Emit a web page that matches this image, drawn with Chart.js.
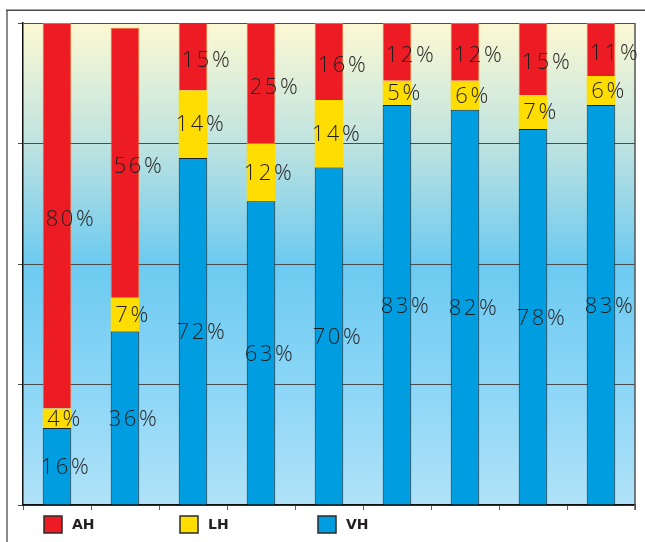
<!DOCTYPE html>
<html>
<head>
<meta charset="utf-8">
<script src="https://cdn.jsdelivr.net/npm/chart.js@4.4.1/dist/chart.umd.min.js"></script>
<style>
  html, body { margin: 0; padding: 0; background: #ffffff; }
  #wrap { position: relative; width: 645px; height: 542px; }
</style>
</head>
<body>
<div id="wrap"><canvas id="chart" width="645" height="542"></canvas></div>
<script>
// --- data ---
const categories = ['1', '2', '3', '4', '5', '6', '7', '8', '9'];
const vhValues = [16, 36, 72, 63, 70, 83, 82, 78, 83];
const lhValues = [4, 7, 14, 12, 14, 5, 6, 7, 6];
const ahValues = [80, 56, 15, 25, 16, 12, 12, 15, 11];
const yTicks = [0, 25, 50, 75, 100];
const legendOrder = ['AH', 'LH', 'VH'];

const TEXT = '#231f20';

// gradient behind the bars + outer frame lines
const backdrop = {
  id: 'backdrop',
  beforeDraw(chart) {
    const { ctx, chartArea: a } = chart;
    const g = ctx.createLinearGradient(0, a.top, 0, a.bottom);
    g.addColorStop(0, '#fcf9d3');
    g.addColorStop(0.25, '#bfe3e0');
    g.addColorStop(0.5, '#6ccaf0');
    g.addColorStop(0.75, '#8bd6f7');
    g.addColorStop(1, '#b0e2f8');
    ctx.save();
    ctx.fillStyle = g;
    ctx.fillRect(a.left, a.top, a.right - a.left, a.bottom - a.top);
    // frame
    ctx.fillStyle = '#8a8a8a';
    ctx.fillRect(6, 10, 2, chart.height - 10);
    ctx.fillStyle = '#4a4a4a';
    ctx.fillRect(6, 9.5, chart.width - 6, 1.5);
    ctx.restore();
  },
  afterDatasetsDraw(chart) {
    const { ctx, chartArea: a } = chart;
    ctx.save();
    ctx.strokeStyle = '#555555';
    ctx.lineWidth = 1.5;
    ctx.beginPath();
    ctx.moveTo(a.right, a.top);
    ctx.lineTo(a.right, a.bottom + 5);
    ctx.stroke();
    ctx.restore();
  }
};

// percentage text on each segment
const segmentLabels = {
  id: 'segmentLabels',
  afterDatasetsDraw(chart) {
    const { ctx } = chart;
    ctx.save();
    ctx.font = '300 22px "Open Sans"';
    ctx.letterSpacing = '2.5px';
    ctx.fillStyle = TEXT;
    ctx.textAlign = 'center';
    ctx.textBaseline = 'middle';
    chart.data.datasets.forEach((ds, i) => {
      const meta = chart.getDatasetMeta(i);
      meta.data.forEach((bar, j) => {
        const top = Math.max(bar.y, chart.chartArea.top);
        const cy = (top + bar.base) / 2 + (ds.labelDrop || 0);
        ctx.fillText(ds.data[j] + '%', bar.x + ds.labelShift, cy);
      });
    });
    ctx.restore();
  }
};

// legend row under the plot
const legendRow = {
  id: 'legendRow',
  afterDraw(chart) {
    const { ctx } = chart;
    const xs = [44, 180, 318];
    ctx.save();
    ctx.font = 'bold 14px "DejaVu Sans"';
    ctx.textBaseline = 'middle';
    legendOrder.forEach((name, k) => {
      const ds = chart.data.datasets.find(d => d.label === name);
      ctx.fillStyle = ds.backgroundColor;
      ctx.fillRect(xs[k], 516, 18, 17);
      ctx.strokeStyle = '#2b2b2b';
      ctx.lineWidth = 1.5;
      ctx.strokeRect(xs[k], 516, 18, 17);
      ctx.fillStyle = TEXT;
      ctx.fillText(name, xs[k] + 28, 525.5);
    });
    ctx.restore();
  }
};

new Chart(document.getElementById('chart'), {
  type: 'bar',
  data: {
    labels: categories,
    datasets: [
      { label: 'VH', data: vhValues, backgroundColor: '#009ee0', borderColor: '#1c2328', borderWidth: 1, labelShift: 9, labelDrop: 2 },
      { label: 'LH', data: lhValues, backgroundColor: '#ffdd00', borderColor: '#f5c800', borderWidth: 0, labelShift: 8, labelDrop: 1 },
      { label: 'AH', data: ahValues, backgroundColor: '#ed1c24', borderColor: '#f26a2a', borderWidth: 1, labelShift: 14, labelDrop: 4 }
    ]
  },
  options: {
    responsive: false,
    animation: false,
    datasets: { bar: { categoryPercentage: 1, barPercentage: 0.42 } },
    layout: { padding: { left: 18, top: 23, right: 10, bottom: 32 } },
    plugins: { legend: { display: false }, tooltip: { enabled: false } },
    scales: {
      x: {
        stacked: true,
        grid: { drawOnChartArea: false, tickLength: 5, color: '#6b5a55', offset: true },
        border: { color: '#111111', width: 1.5 },
        ticks: { display: false }
      },
      y: {
        stacked: true,
        min: 0,
        max: 100,
        afterBuildTicks: axis => { axis.ticks = yTicks.map(v => ({ value: v })); },
        grid: { color: '#4d4d4d', lineWidth: 1, tickLength: 5 },
        border: { color: '#111111', width: 1.5 },
        ticks: { display: false }
      }
    }
  },
  plugins: [backdrop, segmentLabels, legendRow]
});
</script>
</body>
</html>
